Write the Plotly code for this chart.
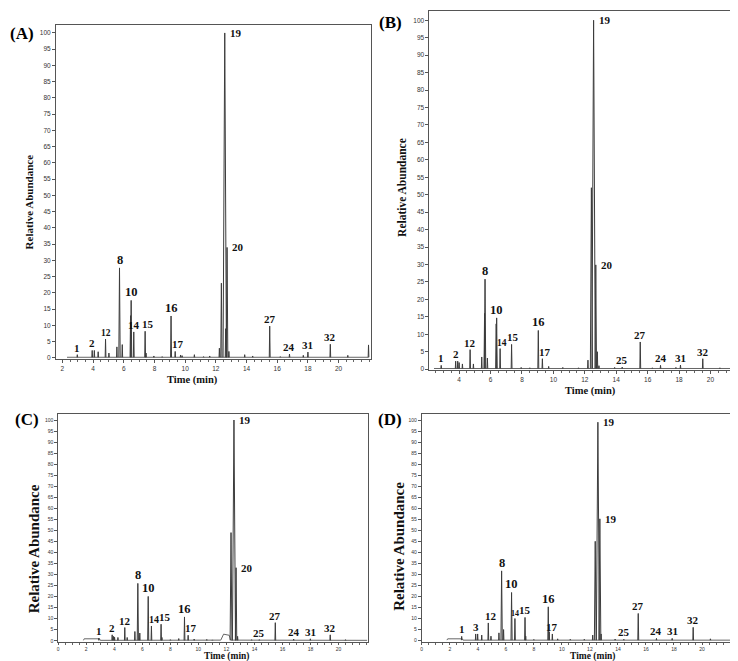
import plotly.graph_objects as go

W, H = 738, 661

# ---------------- DATA ----------------
# Panel A: peak retention times (min) and relative abundances (%)
A_T = [2.97, 3.94, 4.08, 4.33, 4.81, 5.03, 5.55, 5.72, 5.90, 6.44, 6.48, 6.65, 7.39, 7.45,
       7.96, 8.50, 9.08, 9.35, 9.70, 9.80, 10.60, 11.20, 11.60, 12.23, 12.36, 12.58, 12.64,
       12.73, 12.85, 13.88, 14.40, 15.51, 16.20, 16.80, 17.70, 18.00, 19.46, 20.60, 21.95]
A_H = [1.0, 2.3, 2.3, 1.9, 5.8, 1.5, 3.4, 27.7, 4.1, 13.0, 17.7, 8.0, 8.2, 1.5,
       0.6, 0.4, 12.9, 2.0, 0.9, 0.7, 1.0, 0.4, 0.6, 3.0, 23.0, 100.0, 9.0,
       34.0, 2.0, 1.0, 0.6, 9.8, 0.4, 1.2, 0.8, 1.8, 4.2, 0.8, 4.0]
A_BASE_T = [2.3, 21.95]
A_BASE_Y = [0.2, 0.2]
A_LAB = ["1", "2", "12", "8", "10", "14", "15", "16", "17", "19", "20", "27", "24", "31", "32"]
A_LAB_T = [2.97, 3.94, 4.81, 5.72, 6.48, 6.65, 7.39, 9.08, 9.35, 12.58, 12.73, 15.51, 16.80, 18.00, 19.46]

# Panel B
B_T = [2.86, 3.78, 3.91, 4.00, 4.21, 4.70, 4.91, 5.44, 5.62, 5.65, 5.80, 6.36, 6.39, 6.61,
       7.34, 7.95, 8.50, 9.04, 9.30, 9.70, 10.60, 11.60, 12.20, 12.42, 12.56, 12.70, 12.80,
       12.90, 13.90, 14.38, 15.53, 16.30, 16.82, 17.80, 18.09, 19.51, 20.60]
B_H = [1.1, 2.3, 2.3, 1.9, 1.5, 5.6, 1.5, 3.5, 16.0, 25.8, 3.2, 13.0, 14.7, 5.9,
       7.1, 0.5, 0.4, 11.1, 3.0, 0.8, 0.5, 0.4, 2.6, 52.0, 100.0, 29.9, 5.0,
       1.0, 0.5, 0.6, 7.8, 0.4, 1.1, 0.5, 1.2, 3.0, 0.4]
B_BASE_T = [2.4, 21.88]
B_BASE_Y = [0.2, 0.2]
B_LAB = ["1", "2", "12", "8", "10", "14", "15", "16", "17", "19", "20", "25", "27", "24", "31", "32"]
B_LAB_T = [2.86, 3.78, 4.70, 5.65, 6.39, 6.61, 7.34, 9.04, 9.30, 12.56, 12.70, 14.38, 15.53, 16.82, 18.09, 19.51]

# Panel C
C_T = [2.90, 3.85, 3.95, 4.02, 4.26, 4.75, 4.92, 5.47, 5.68, 5.82, 6.42, 6.65, 7.34, 7.40,
       8.00, 8.60, 9.01, 9.27, 9.70, 10.60, 11.00, 12.33, 12.54, 12.69, 12.80, 13.80, 14.35,
       15.49, 16.80, 17.99, 19.41, 20.50]
C_H = [1.2, 2.7, 2.0, 1.6, 1.5, 6.0, 1.5, 4.2, 26.0, 3.5, 20.1, 6.7, 7.5, 1.5,
       0.5, 1.0, 10.8, 2.5, 0.8, 0.6, 0.4, 49.0, 100.0, 33.1, 2.0, 0.5, 0.5,
       8.2, 0.8, 0.9, 2.7, 0.5]
C_BASE_T = [1.80, 1.85, 2.95, 3.00, 11.60, 11.80, 12.20, 12.30, 22.05]
C_BASE_Y = [0.2, 0.9, 0.9, 0.2, 0.3, 3.0, 2.5, 0.3, 0.2]
C_LAB = ["1", "2", "12", "8", "10", "14", "15", "16", "17", "19", "20", "25", "27", "24", "31", "32"]
C_LAB_T = [2.90, 3.85, 4.75, 5.68, 6.42, 6.65, 7.34, 9.01, 9.27, 12.54, 12.69, 14.35, 15.49, 16.80, 17.99, 19.41]

# Panel D
D_T = [2.85, 3.85, 3.99, 4.28, 4.75, 4.94, 5.51, 5.70, 5.84, 6.41, 6.65, 7.37, 7.42, 8.00,
       9.03, 9.10, 9.32, 9.70, 10.60, 11.60, 12.20, 12.38, 12.57, 12.71, 12.80, 13.80, 14.42,
       15.45, 16.75, 17.87, 19.37, 20.60]
D_H = [1.9, 3.0, 3.0, 2.5, 8.0, 2.0, 3.5, 31.6, 5.0, 21.8, 10.0, 10.5, 2.0, 0.5,
       15.3, 4.0, 3.0, 0.8, 0.6, 0.6, 2.5, 45.0, 99.0, 55.2, 3.0, 0.7, 0.6,
       12.3, 1.0, 1.0, 6.0, 0.8]
D_BASE_T = [1.80, 1.85, 2.90, 2.95, 22.05]
D_BASE_Y = [0.2, 0.8, 0.8, 0.2, 0.2]
D_LAB = ["1", "3", "12", "8", "10", "14", "15", "16", "17", "19", "19", "25", "27", "24", "31", "32"]
D_LAB_T = [2.85, 3.85, 4.75, 5.70, 6.41, 6.65, 7.37, 9.03, 9.32, 12.57, 12.71, 14.42, 15.45, 16.75, 17.87, 19.37]

X_TICKS_A = [2, 4, 6, 8, 10, 12, 14, 16, 18, 20]
X_TICKS_C = [0, 2, 4, 6, 8, 10, 12, 14, 16, 18, 20]
Y_TICKS = list(range(0, 101, 5))

# ---------------- LAYOUT / STYLE ----------------
# pixel boxes (left, right, top, bottom) and axis ranges
PANELS = [
    dict(name="(A)", T=A_T, Hh=A_H, BT=A_BASE_T, BY=A_BASE_Y, LAB=A_LAB, LT=A_LAB_T,
         box=(47, 362, 16.7, 352), xr=[1.577, 22.08], yr=[-0.31, 102.55], xt=X_TICKS_A,
         tfs=6.5, tl=3, title_pos=(13, 26), ytitle=(20, 194, 11), xtitle=(184, 373, 10.5),
         nudge={"15": 3, "17": 3}, fsz={"12": 9.5}),
    dict(name="(B)", T=B_T, Hh=B_H, BT=B_BASE_T, BY=B_BASE_Y, LAB=B_LAB, LT=B_LAB_T,
         box=(421, 732, 3.3, 363.3), xr=[2.11, 21.88], yr=[-0.29, 102.57], xt=X_TICKS_A,
         tfs=6.5, tl=3, title_pos=(382, 15), ytitle=(394, 180, 11.5), xtitle=(582, 384, 10.5),
         nudge={"15": 1, "17": 3, "14": 2}, fsz={"14": 9.5}),
    dict(name="(C)", T=C_T, Hh=C_H, BT=C_BASE_T, BY=C_BASE_Y, LAB=C_LAB, LT=C_LAB_T,
         box=(49.3, 359, 407.3, 635.7), xr=[0, 22.07], yr=[-0.45, 102.69], xt=X_TICKS_C,
         tfs=5, tl=2, title_pos=(18, 413), ytitle=(25, 542, 15), xtitle=(218, 650.5, 9.5),
         nudge={"14": 3, "15": 4, "17": 3}, fsz={"14": 10}),
    dict(name="(D)", T=D_T, Hh=D_H, BT=D_BASE_T, BY=D_BASE_Y, LAB=D_LAB, LT=D_LAB_T,
         box=(413.3, 723, 407.3, 635.5), xr=[0, 22.07], yr=[-0.45, 102.7], xt=X_TICKS_C,
         tfs=5, tl=2, title_pos=(382, 413), ytitle=(391, 540, 15), xtitle=(584, 650, 9.5),
         nudge={"12": 3}, fsz={"14": 8}),
]

LINE_COLOR = "#3c3c3c"
SERIF = "Liberation Serif, Times New Roman, serif"
SANS = "Liberation Sans, Arial, sans-serif"
BIG = {"8", "10", "16"}

fig = go.Figure()
annotations = []

for i, p in enumerate(PANELS):
    k = "" if i == 0 else str(i + 1)
    xa, ya = "x" + k, "y" + k
    l, r, t, b = p["box"]

    # baseline
    fig.add_trace(go.Scatter(x=p["BT"], y=p["BY"], mode="lines", xaxis=xa, yaxis=ya,
                             line=dict(color="#666", width=1), hoverinfo="skip",
                             showlegend=False))
    # peaks as narrow spikes
    xs, ys = [], []
    for tt, hh in zip(p["T"], p["Hh"]):
        w = 0.02 + 0.0009 * hh
        xs += [tt - w, tt, tt + w, None]
        ys += [0.2, hh, 0.2, None]
    fig.add_trace(go.Scatter(x=xs, y=ys, mode="lines", xaxis=xa, yaxis=ya,
                             line=dict(color=LINE_COLOR, width=1), hoverinfo="skip",
                             showlegend=False))

    fig.layout["xaxis" + k] = dict(
        domain=[l / W, r / W], range=p["xr"], anchor=ya, tickmode="array",
        tickvals=p["xt"], ticks="outside", ticklen=p["tl"], tickcolor="#555",
        minor=dict(tickmode="linear", tick0=0, dtick=0.5, ticks="outside", ticklen=2,
                   tickcolor="#666"),
        showline=True, linecolor="#555", linewidth=1, mirror=True,
        showgrid=False, zeroline=False,
        tickfont=dict(family=SANS, size=p["tfs"], color="#333"))
    fig.layout["yaxis" + k] = dict(
        domain=[1 - b / H, 1 - t / H], range=p["yr"], anchor=xa, tickmode="array",
        tickvals=Y_TICKS, ticks="outside", ticklen=3, tickcolor="#555",
        showline=True, linecolor="#555", linewidth=1, mirror=True,
        showgrid=False, zeroline=False,
        tickfont=dict(family=SANS, size=p["tfs"], color="#333"))

    # peak labels
    for lab, lt in zip(p["LAB"], p["LT"]):
        j = min(range(len(p["T"])), key=lambda q: abs(p["T"][q] - lt))
        px_, py_ = p["T"][j], p["Hh"][j]
        size = p["fsz"].get(lab, 12.5 if lab in BIG else 11)
        if 12.3 < px_ < 13.0 and py_ > 25:
            annotations.append(dict(x=px_, y=py_, xref=xa, yref=ya, text="<b>%s</b>" % lab,
                                    showarrow=False, xanchor="left", yanchor="middle",
                                    xshift=3, font=dict(family=SERIF, size=size, color="#111")))
        else:
            annotations.append(dict(x=px_, y=py_, xref=xa, yref=ya, text="<b>%s</b>" % lab,
                                    showarrow=False, xanchor="center", yanchor="bottom",
                                    xshift=p["nudge"].get(lab, 0), yshift=-1,
                                    font=dict(family=SERIF, size=size, color="#111")))

    # panel letter
    tx, ty = p["title_pos"]
    annotations.append(dict(x=tx / W, y=1 - ty / H, xref="paper", yref="paper",
                            text="<b>%s</b>" % p["name"], showarrow=False,
                            xanchor="center", yanchor="middle",
                            font=dict(family=SERIF, size=17, color="#000")))
    # axis titles
    yx, yy, ys_ = p["ytitle"]
    annotations.append(dict(x=yx / W, y=1 - yy / H, xref="paper", yref="paper",
                            text="<b>Relative Abundance</b>", showarrow=False, textangle=-90,
                            xanchor="center", yanchor="middle",
                            font=dict(family=SERIF, size=ys_, color="#111")))
    xx, xy, xs_ = p["xtitle"]
    annotations.append(dict(x=xx / W, y=1 - xy / H, xref="paper", yref="paper",
                            text="<b>Time (min)</b>", showarrow=False,
                            xanchor="center", yanchor="middle", borderpad=0,
                            font=dict(family=SERIF, size=xs_, color="#111")))

fig.update_layout(width=W, height=H, margin=dict(l=0, r=0, t=0, b=0),
                  paper_bgcolor="white", plot_bgcolor="white",
                  annotations=annotations, showlegend=False)

fig.write_html("out.html")
